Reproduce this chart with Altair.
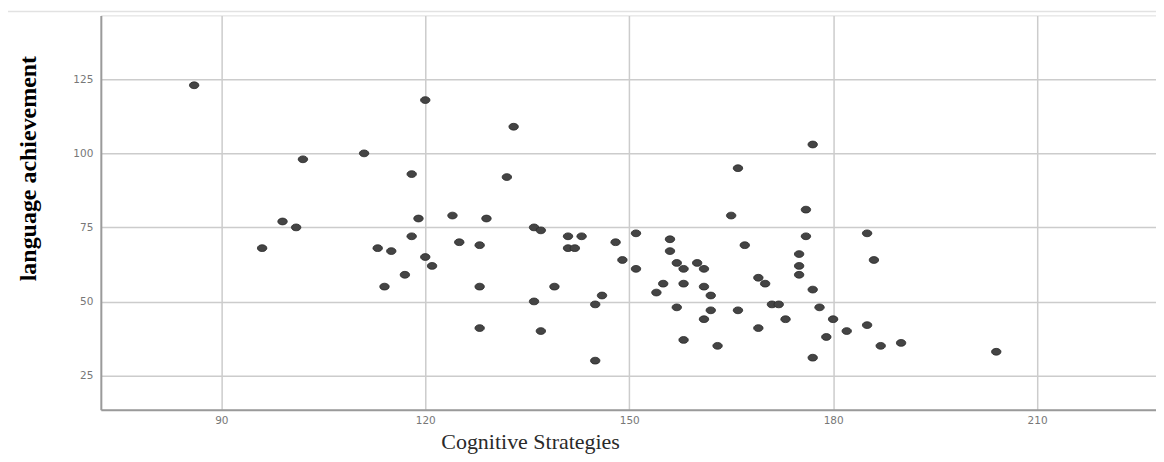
import altair as alt
import pandas as pd

cognitive = [86, 96, 99, 101, 102, 111, 113, 115, 114, 118, 120, 119, 118, 117, 120, 121,
             124, 125, 128, 129, 128, 128, 132, 133, 136, 137, 136, 137, 139, 141, 143, 141,
             142, 145, 146, 145, 148, 149, 151, 151, 154, 155, 156, 156, 157, 158, 158, 157,
             158, 160, 161, 161, 162, 162, 161, 163, 165, 166, 167, 166, 169, 170, 169, 171,
             172, 173, 177, 176, 176, 175, 175, 175, 177, 178, 180, 179, 177, 182, 185, 186,
             185, 187, 190, 204]
language = [123, 68, 77, 75, 98, 100, 68, 67, 55, 93, 118, 78, 72, 59, 65, 62,
            79, 70, 69, 78, 55, 41, 92, 109, 75, 74, 50, 40, 55, 72, 72, 68,
            68, 49, 52, 30, 70, 64, 73, 61, 53, 56, 71, 67, 63, 61, 56, 48,
            37, 63, 61, 55, 52, 47, 44, 35, 79, 95, 69, 47, 58, 56, 41, 49,
            49, 44, 103, 81, 72, 66, 62, 59, 54, 48, 44, 38, 31, 40, 73, 64,
            42, 35, 36, 33]

x_ticks = [90, 120, 150, 180, 210]
y_ticks = [25, 50, 75, 100, 125]

df = pd.DataFrame({"Cognitive Strategies": cognitive, "language achievement": language})

ellipse = "M-1,0 A1,0.72 0 1,0 1,0 A1,0.72 0 1,0 -1,0 Z"

points = alt.Chart(df).mark_point(
    shape=ellipse, size=90, filled=True, fill="#444444", stroke="#2a2a2a",
    strokeWidth=0.8, opacity=1
).encode(
    x=alt.X("Cognitive Strategies:Q",
            scale=alt.Scale(domain=[72.27, 227.5], nice=False, zero=False),
            axis=alt.Axis(values=x_ticks, title="Cognitive Strategies",
                          titleFont="Liberation Serif", titleFontSize=22,
                          titleFontWeight="normal", titleColor="#2a2a2a",
                          titleX=430, titleY=39, titleAnchor="middle",
                          titleBaseline="alphabetic",
                          labelFont="DejaVu Sans", labelFontSize=10.5,
                          labelColor="#777777", labelPadding=6, ticks=False,
                          domainColor="#9a9a9a", domainWidth=2,
                          gridColor="#cccccc", gridWidth=1.5)),
    y=alt.Y("language achievement:Q",
            scale=alt.Scale(domain=[13.44, 146.6], nice=False, zero=False),
            axis=alt.Axis(values=y_ticks, title="language achievement",
                          titleFont="Liberation Serif", titleFontSize=24,
                          titleFontWeight="bold", titleColor="#000000",
                          titleX=-72, titleY=153, titleAngle=270,
                          titleAnchor="middle", titleBaseline="middle",
                          labelFont="DejaVu Sans", labelFontSize=10.5,
                          labelColor="#777777", labelPadding=8, ticks=False,
                          domainColor="#9a9a9a", domainWidth=2,
                          gridColor="#cccccc", gridWidth=1.5)),
)

top_line = alt.Chart(pd.DataFrame({"v": [0]})).mark_rule(
    color="#e2e2e2", strokeWidth=1.5
).encode(x=alt.value(-95), x2=alt.value(1060), y=alt.value(-4))

chart = alt.layer(top_line, points).properties(
    width=1057, height=395,
    autosize=alt.AutoSizeParams(type="none"),
    padding={"left": 93, "top": 7, "right": 0, "bottom": 50},
).configure_view(stroke=None).configure(background="white")

chart.save("out.html", embed_options={"renderer": "svg", "actions": False})
